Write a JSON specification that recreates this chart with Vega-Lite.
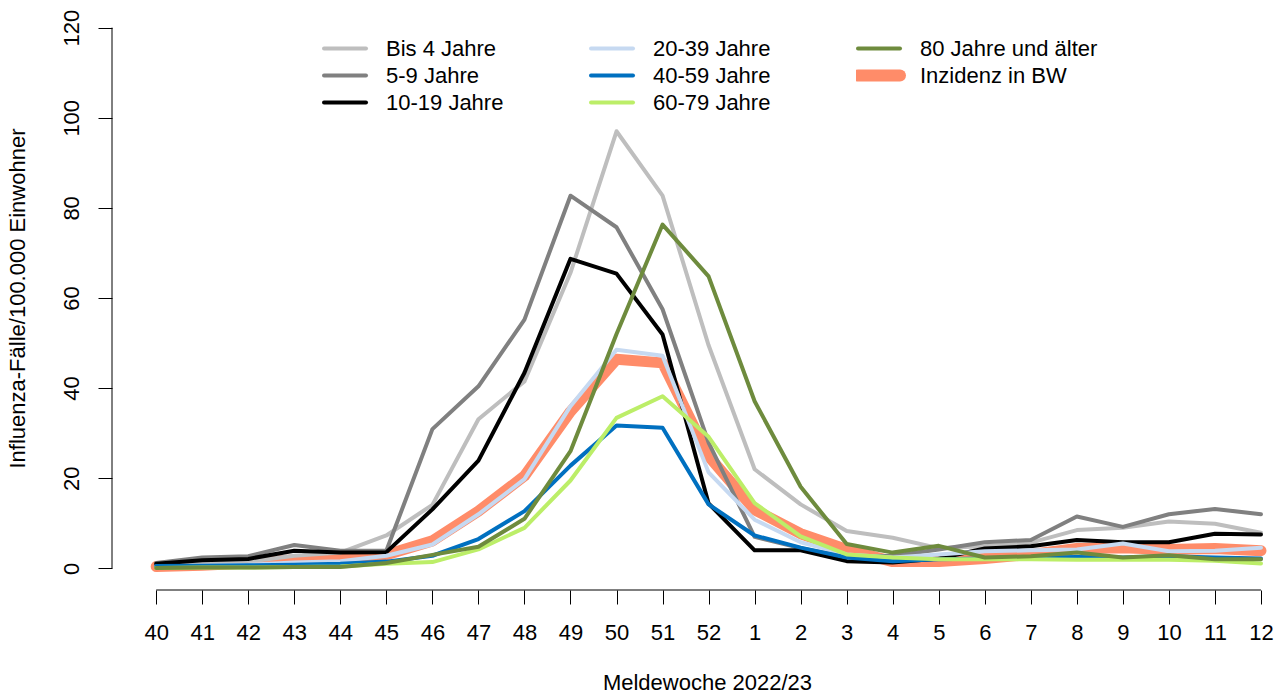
{
  "$schema": "https://vega.github.io/schema/vega-lite/v6.json",
  "width": 1172,
  "height": 584,
  "autosize": {"type": "none"},
  "padding": {"left": 112, "top": 6, "right": 0, "bottom": 105},
  "background": "white",
  "config": {
    "view": {"stroke": null},
    "font": "Liberation Sans",
    "axis": {"grid": false, "labelFont": "Liberation Sans", "titleFont": "Liberation Sans", "labelColor": "black", "titleColor": "black", "tickColor": "black", "tickWidth": 1, "labelFontSize": 22, "titleFontSize": 22, "titleFontWeight": "normal"}
  },
  "data": {
    "values": [
      {"Woche": "2022-10-03", "Gruppe": "Bis 4 Jahre", "Wert": 0.5},
      {"Woche": "2022-10-10", "Gruppe": "Bis 4 Jahre", "Wert": 1.0},
      {"Woche": "2022-10-17", "Gruppe": "Bis 4 Jahre", "Wert": 1.5},
      {"Woche": "2022-10-24", "Gruppe": "Bis 4 Jahre", "Wert": 2.8},
      {"Woche": "2022-10-31", "Gruppe": "Bis 4 Jahre", "Wert": 3.5},
      {"Woche": "2022-11-07", "Gruppe": "Bis 4 Jahre", "Wert": 7.3},
      {"Woche": "2022-11-14", "Gruppe": "Bis 4 Jahre", "Wert": 14.1},
      {"Woche": "2022-11-21", "Gruppe": "Bis 4 Jahre", "Wert": 33.1},
      {"Woche": "2022-11-28", "Gruppe": "Bis 4 Jahre", "Wert": 41.5},
      {"Woche": "2022-12-05", "Gruppe": "Bis 4 Jahre", "Wert": 65.6},
      {"Woche": "2022-12-12", "Gruppe": "Bis 4 Jahre", "Wert": 97.0},
      {"Woche": "2022-12-19", "Gruppe": "Bis 4 Jahre", "Wert": 82.7},
      {"Woche": "2022-12-26", "Gruppe": "Bis 4 Jahre", "Wert": 49.5},
      {"Woche": "2023-01-02", "Gruppe": "Bis 4 Jahre", "Wert": 22.0},
      {"Woche": "2023-01-09", "Gruppe": "Bis 4 Jahre", "Wert": 14.2},
      {"Woche": "2023-01-16", "Gruppe": "Bis 4 Jahre", "Wert": 8.3},
      {"Woche": "2023-01-23", "Gruppe": "Bis 4 Jahre", "Wert": 6.8},
      {"Woche": "2023-01-30", "Gruppe": "Bis 4 Jahre", "Wert": 4.5},
      {"Woche": "2023-02-06", "Gruppe": "Bis 4 Jahre", "Wert": 4.9},
      {"Woche": "2023-02-13", "Gruppe": "Bis 4 Jahre", "Wert": 5.7},
      {"Woche": "2023-02-20", "Gruppe": "Bis 4 Jahre", "Wert": 8.5},
      {"Woche": "2023-02-27", "Gruppe": "Bis 4 Jahre", "Wert": 9.0},
      {"Woche": "2023-03-06", "Gruppe": "Bis 4 Jahre", "Wert": 10.4},
      {"Woche": "2023-03-13", "Gruppe": "Bis 4 Jahre", "Wert": 9.9},
      {"Woche": "2023-03-20", "Gruppe": "Bis 4 Jahre", "Wert": 7.9},

      {"Woche": "2022-10-03", "Gruppe": "5-9 Jahre", "Wert": 1.2},
      {"Woche": "2022-10-10", "Gruppe": "5-9 Jahre", "Wert": 2.4},
      {"Woche": "2022-10-17", "Gruppe": "5-9 Jahre", "Wert": 2.7},
      {"Woche": "2022-10-24", "Gruppe": "5-9 Jahre", "Wert": 5.2},
      {"Woche": "2022-10-31", "Gruppe": "5-9 Jahre", "Wert": 3.9},
      {"Woche": "2022-11-07", "Gruppe": "5-9 Jahre", "Wert": 3.9},
      {"Woche": "2022-11-14", "Gruppe": "5-9 Jahre", "Wert": 30.9},
      {"Woche": "2022-11-21", "Gruppe": "5-9 Jahre", "Wert": 40.4},
      {"Woche": "2022-11-28", "Gruppe": "5-9 Jahre", "Wert": 55.2},
      {"Woche": "2022-12-05", "Gruppe": "5-9 Jahre", "Wert": 82.7},
      {"Woche": "2022-12-12", "Gruppe": "5-9 Jahre", "Wert": 75.7},
      {"Woche": "2022-12-19", "Gruppe": "5-9 Jahre", "Wert": 57.5},
      {"Woche": "2022-12-26", "Gruppe": "5-9 Jahre", "Wert": 27.9},
      {"Woche": "2023-01-02", "Gruppe": "5-9 Jahre", "Wert": 7.0},
      {"Woche": "2023-01-09", "Gruppe": "5-9 Jahre", "Wert": 4.5},
      {"Woche": "2023-01-16", "Gruppe": "5-9 Jahre", "Wert": 2.5},
      {"Woche": "2023-01-23", "Gruppe": "5-9 Jahre", "Wert": 2.8},
      {"Woche": "2023-01-30", "Gruppe": "5-9 Jahre", "Wert": 4.2},
      {"Woche": "2023-02-06", "Gruppe": "5-9 Jahre", "Wert": 5.8},
      {"Woche": "2023-02-13", "Gruppe": "5-9 Jahre", "Wert": 6.3},
      {"Woche": "2023-02-20", "Gruppe": "5-9 Jahre", "Wert": 11.5},
      {"Woche": "2023-02-27", "Gruppe": "5-9 Jahre", "Wert": 9.2},
      {"Woche": "2023-03-06", "Gruppe": "5-9 Jahre", "Wert": 12.0},
      {"Woche": "2023-03-13", "Gruppe": "5-9 Jahre", "Wert": 13.2},
      {"Woche": "2023-03-20", "Gruppe": "5-9 Jahre", "Wert": 12.0},

      {"Woche": "2022-10-03", "Gruppe": "10-19 Jahre", "Wert": 1.0},
      {"Woche": "2022-10-10", "Gruppe": "10-19 Jahre", "Wert": 1.8},
      {"Woche": "2022-10-17", "Gruppe": "10-19 Jahre", "Wert": 2.1},
      {"Woche": "2022-10-24", "Gruppe": "10-19 Jahre", "Wert": 3.9},
      {"Woche": "2022-10-31", "Gruppe": "10-19 Jahre", "Wert": 3.5},
      {"Woche": "2022-11-07", "Gruppe": "10-19 Jahre", "Wert": 3.6},
      {"Woche": "2022-11-14", "Gruppe": "10-19 Jahre", "Wert": 13.1},
      {"Woche": "2022-11-21", "Gruppe": "10-19 Jahre", "Wert": 23.9},
      {"Woche": "2022-11-28", "Gruppe": "10-19 Jahre", "Wert": 43.4},
      {"Woche": "2022-12-05", "Gruppe": "10-19 Jahre", "Wert": 68.7},
      {"Woche": "2022-12-12", "Gruppe": "10-19 Jahre", "Wert": 65.4},
      {"Woche": "2022-12-19", "Gruppe": "10-19 Jahre", "Wert": 51.9},
      {"Woche": "2022-12-26", "Gruppe": "10-19 Jahre", "Wert": 14.4},
      {"Woche": "2023-01-02", "Gruppe": "10-19 Jahre", "Wert": 4.0},
      {"Woche": "2023-01-09", "Gruppe": "10-19 Jahre", "Wert": 4.0},
      {"Woche": "2023-01-16", "Gruppe": "10-19 Jahre", "Wert": 1.6},
      {"Woche": "2023-01-23", "Gruppe": "10-19 Jahre", "Wert": 1.3},
      {"Woche": "2023-01-30", "Gruppe": "10-19 Jahre", "Wert": 2.2},
      {"Woche": "2023-02-06", "Gruppe": "10-19 Jahre", "Wert": 4.4},
      {"Woche": "2023-02-13", "Gruppe": "10-19 Jahre", "Wert": 4.9},
      {"Woche": "2023-02-20", "Gruppe": "10-19 Jahre", "Wert": 6.3},
      {"Woche": "2023-02-27", "Gruppe": "10-19 Jahre", "Wert": 5.8},
      {"Woche": "2023-03-06", "Gruppe": "10-19 Jahre", "Wert": 5.8},
      {"Woche": "2023-03-13", "Gruppe": "10-19 Jahre", "Wert": 7.7},
      {"Woche": "2023-03-20", "Gruppe": "10-19 Jahre", "Wert": 7.5},

      {"Woche": "2022-10-03", "Gruppe": "20-39 Jahre", "Wert": 0.4},
      {"Woche": "2022-10-10", "Gruppe": "20-39 Jahre", "Wert": 0.6},
      {"Woche": "2022-10-17", "Gruppe": "20-39 Jahre", "Wert": 0.8},
      {"Woche": "2022-10-24", "Gruppe": "20-39 Jahre", "Wert": 1.3},
      {"Woche": "2022-10-31", "Gruppe": "20-39 Jahre", "Wert": 1.6},
      {"Woche": "2022-11-07", "Gruppe": "20-39 Jahre", "Wert": 2.8},
      {"Woche": "2022-11-14", "Gruppe": "20-39 Jahre", "Wert": 5.3},
      {"Woche": "2022-11-21", "Gruppe": "20-39 Jahre", "Wert": 12.0},
      {"Woche": "2022-11-28", "Gruppe": "20-39 Jahre", "Wert": 19.8},
      {"Woche": "2022-12-05", "Gruppe": "20-39 Jahre", "Wert": 36.0},
      {"Woche": "2022-12-12", "Gruppe": "20-39 Jahre", "Wert": 48.5},
      {"Woche": "2022-12-19", "Gruppe": "20-39 Jahre", "Wert": 47.2},
      {"Woche": "2022-12-26", "Gruppe": "20-39 Jahre", "Wert": 21.3},
      {"Woche": "2023-01-02", "Gruppe": "20-39 Jahre", "Wert": 10.8},
      {"Woche": "2023-01-09", "Gruppe": "20-39 Jahre", "Wert": 5.8},
      {"Woche": "2023-01-16", "Gruppe": "20-39 Jahre", "Wert": 3.1},
      {"Woche": "2023-01-23", "Gruppe": "20-39 Jahre", "Wert": 2.4},
      {"Woche": "2023-01-30", "Gruppe": "20-39 Jahre", "Wert": 3.1},
      {"Woche": "2023-02-06", "Gruppe": "20-39 Jahre", "Wert": 3.8},
      {"Woche": "2023-02-13", "Gruppe": "20-39 Jahre", "Wert": 4.0},
      {"Woche": "2023-02-20", "Gruppe": "20-39 Jahre", "Wert": 4.2},
      {"Woche": "2023-02-27", "Gruppe": "20-39 Jahre", "Wert": 5.5},
      {"Woche": "2023-03-06", "Gruppe": "20-39 Jahre", "Wert": 3.8},
      {"Woche": "2023-03-13", "Gruppe": "20-39 Jahre", "Wert": 3.9},
      {"Woche": "2023-03-20", "Gruppe": "20-39 Jahre", "Wert": 4.6},

      {"Woche": "2022-10-03", "Gruppe": "40-59 Jahre", "Wert": 0.5},
      {"Woche": "2022-10-10", "Gruppe": "40-59 Jahre", "Wert": 0.6},
      {"Woche": "2022-10-17", "Gruppe": "40-59 Jahre", "Wert": 0.7},
      {"Woche": "2022-10-24", "Gruppe": "40-59 Jahre", "Wert": 0.8},
      {"Woche": "2022-10-31", "Gruppe": "40-59 Jahre", "Wert": 1.0},
      {"Woche": "2022-11-07", "Gruppe": "40-59 Jahre", "Wert": 1.5},
      {"Woche": "2022-11-14", "Gruppe": "40-59 Jahre", "Wert": 2.8},
      {"Woche": "2022-11-21", "Gruppe": "40-59 Jahre", "Wert": 6.5},
      {"Woche": "2022-11-28", "Gruppe": "40-59 Jahre", "Wert": 12.7},
      {"Woche": "2022-12-05", "Gruppe": "40-59 Jahre", "Wert": 22.8},
      {"Woche": "2022-12-12", "Gruppe": "40-59 Jahre", "Wert": 31.7},
      {"Woche": "2022-12-19", "Gruppe": "40-59 Jahre", "Wert": 31.2},
      {"Woche": "2022-12-26", "Gruppe": "40-59 Jahre", "Wert": 14.2},
      {"Woche": "2023-01-02", "Gruppe": "40-59 Jahre", "Wert": 7.3},
      {"Woche": "2023-01-09", "Gruppe": "40-59 Jahre", "Wert": 4.6},
      {"Woche": "2023-01-16", "Gruppe": "40-59 Jahre", "Wert": 2.4},
      {"Woche": "2023-01-23", "Gruppe": "40-59 Jahre", "Wert": 1.6},
      {"Woche": "2023-01-30", "Gruppe": "40-59 Jahre", "Wert": 2.0},
      {"Woche": "2023-02-06", "Gruppe": "40-59 Jahre", "Wert": 2.2},
      {"Woche": "2023-02-13", "Gruppe": "40-59 Jahre", "Wert": 2.4},
      {"Woche": "2023-02-20", "Gruppe": "40-59 Jahre", "Wert": 2.5},
      {"Woche": "2023-02-27", "Gruppe": "40-59 Jahre", "Wert": 2.4},
      {"Woche": "2023-03-06", "Gruppe": "40-59 Jahre", "Wert": 2.7},
      {"Woche": "2023-03-13", "Gruppe": "40-59 Jahre", "Wert": 2.4},
      {"Woche": "2023-03-20", "Gruppe": "40-59 Jahre", "Wert": 2.2},

      {"Woche": "2022-10-03", "Gruppe": "60-79 Jahre", "Wert": 0.1},
      {"Woche": "2022-10-10", "Gruppe": "60-79 Jahre", "Wert": 0.2},
      {"Woche": "2022-10-17", "Gruppe": "60-79 Jahre", "Wert": 0.2},
      {"Woche": "2022-10-24", "Gruppe": "60-79 Jahre", "Wert": 0.3},
      {"Woche": "2022-10-31", "Gruppe": "60-79 Jahre", "Wert": 0.4},
      {"Woche": "2022-11-07", "Gruppe": "60-79 Jahre", "Wert": 1.0},
      {"Woche": "2022-11-14", "Gruppe": "60-79 Jahre", "Wert": 1.4},
      {"Woche": "2022-11-21", "Gruppe": "60-79 Jahre", "Wert": 4.2},
      {"Woche": "2022-11-28", "Gruppe": "60-79 Jahre", "Wert": 9.0},
      {"Woche": "2022-12-05", "Gruppe": "60-79 Jahre", "Wert": 19.5},
      {"Woche": "2022-12-12", "Gruppe": "60-79 Jahre", "Wert": 33.4},
      {"Woche": "2022-12-19", "Gruppe": "60-79 Jahre", "Wert": 38.2},
      {"Woche": "2022-12-26", "Gruppe": "60-79 Jahre", "Wert": 29.2},
      {"Woche": "2023-01-02", "Gruppe": "60-79 Jahre", "Wert": 14.5},
      {"Woche": "2023-01-09", "Gruppe": "60-79 Jahre", "Wert": 7.1},
      {"Woche": "2023-01-16", "Gruppe": "60-79 Jahre", "Wert": 3.1},
      {"Woche": "2023-01-23", "Gruppe": "60-79 Jahre", "Wert": 2.4},
      {"Woche": "2023-01-30", "Gruppe": "60-79 Jahre", "Wert": 2.0},
      {"Woche": "2023-02-06", "Gruppe": "60-79 Jahre", "Wert": 2.0},
      {"Woche": "2023-02-13", "Gruppe": "60-79 Jahre", "Wert": 2.0},
      {"Woche": "2023-02-20", "Gruppe": "60-79 Jahre", "Wert": 1.9},
      {"Woche": "2023-02-27", "Gruppe": "60-79 Jahre", "Wert": 1.9},
      {"Woche": "2023-03-06", "Gruppe": "60-79 Jahre", "Wert": 1.9},
      {"Woche": "2023-03-13", "Gruppe": "60-79 Jahre", "Wert": 1.7},
      {"Woche": "2023-03-20", "Gruppe": "60-79 Jahre", "Wert": 1.1},

      {"Woche": "2022-10-03", "Gruppe": "80 Jahre und älter", "Wert": 0.1},
      {"Woche": "2022-10-10", "Gruppe": "80 Jahre und älter", "Wert": 0.2},
      {"Woche": "2022-10-17", "Gruppe": "80 Jahre und älter", "Wert": 0.2},
      {"Woche": "2022-10-24", "Gruppe": "80 Jahre und älter", "Wert": 0.3},
      {"Woche": "2022-10-31", "Gruppe": "80 Jahre und älter", "Wert": 0.3},
      {"Woche": "2022-11-07", "Gruppe": "80 Jahre und älter", "Wert": 1.2},
      {"Woche": "2022-11-14", "Gruppe": "80 Jahre und älter", "Wert": 3.0},
      {"Woche": "2022-11-21", "Gruppe": "80 Jahre und älter", "Wert": 4.8},
      {"Woche": "2022-11-28", "Gruppe": "80 Jahre und älter", "Wert": 11.0},
      {"Woche": "2022-12-05", "Gruppe": "80 Jahre und älter", "Wert": 26.0},
      {"Woche": "2022-12-12", "Gruppe": "80 Jahre und älter", "Wert": 52.0},
      {"Woche": "2022-12-19", "Gruppe": "80 Jahre und älter", "Wert": 76.3},
      {"Woche": "2022-12-26", "Gruppe": "80 Jahre und älter", "Wert": 64.8},
      {"Woche": "2023-01-02", "Gruppe": "80 Jahre und älter", "Wert": 37.1},
      {"Woche": "2023-01-09", "Gruppe": "80 Jahre und älter", "Wert": 18.1},
      {"Woche": "2023-01-16", "Gruppe": "80 Jahre und älter", "Wert": 5.4},
      {"Woche": "2023-01-23", "Gruppe": "80 Jahre und älter", "Wert": 3.5},
      {"Woche": "2023-01-30", "Gruppe": "80 Jahre und älter", "Wert": 5.0},
      {"Woche": "2023-02-06", "Gruppe": "80 Jahre und älter", "Wert": 2.4},
      {"Woche": "2023-02-13", "Gruppe": "80 Jahre und älter", "Wert": 2.7},
      {"Woche": "2023-02-20", "Gruppe": "80 Jahre und älter", "Wert": 3.5},
      {"Woche": "2023-02-27", "Gruppe": "80 Jahre und älter", "Wert": 2.4},
      {"Woche": "2023-03-06", "Gruppe": "80 Jahre und älter", "Wert": 2.9},
      {"Woche": "2023-03-13", "Gruppe": "80 Jahre und älter", "Wert": 2.0},
      {"Woche": "2023-03-20", "Gruppe": "80 Jahre und älter", "Wert": 2.0},

      {"Woche": "2022-10-03", "Gruppe": "Inzidenz in BW", "Wert": 0.4},
      {"Woche": "2022-10-10", "Gruppe": "Inzidenz in BW", "Wert": 0.7},
      {"Woche": "2022-10-17", "Gruppe": "Inzidenz in BW", "Wert": 1.2},
      {"Woche": "2022-10-24", "Gruppe": "Inzidenz in BW", "Wert": 1.9},
      {"Woche": "2022-10-31", "Gruppe": "Inzidenz in BW", "Wert": 2.1},
      {"Woche": "2022-11-07", "Gruppe": "Inzidenz in BW", "Wert": 3.0},
      {"Woche": "2022-11-14", "Gruppe": "Inzidenz in BW", "Wert": 6.1},
      {"Woche": "2022-11-21", "Gruppe": "Inzidenz in BW", "Wert": 12.7},
      {"Woche": "2022-11-28", "Gruppe": "Inzidenz in BW", "Wert": 20.5},
      {"Woche": "2022-12-05", "Gruppe": "Inzidenz in BW", "Wert": 34.8},
      {"Woche": "2022-12-12", "Gruppe": "Inzidenz in BW", "Wert": 46.4},
      {"Woche": "2022-12-19", "Gruppe": "Inzidenz in BW", "Wert": 45.6},
      {"Woche": "2022-12-26", "Gruppe": "Inzidenz in BW", "Wert": 24.9},
      {"Woche": "2023-01-02", "Gruppe": "Inzidenz in BW", "Wert": 13.0},
      {"Woche": "2023-01-09", "Gruppe": "Inzidenz in BW", "Wert": 7.7},
      {"Woche": "2023-01-16", "Gruppe": "Inzidenz in BW", "Wert": 4.2},
      {"Woche": "2023-01-23", "Gruppe": "Inzidenz in BW", "Wert": 1.5},
      {"Woche": "2023-01-30", "Gruppe": "Inzidenz in BW", "Wert": 1.5},
      {"Woche": "2023-02-06", "Gruppe": "Inzidenz in BW", "Wert": 2.2},
      {"Woche": "2023-02-13", "Gruppe": "Inzidenz in BW", "Wert": 3.1},
      {"Woche": "2023-02-20", "Gruppe": "Inzidenz in BW", "Wert": 4.4},
      {"Woche": "2023-02-27", "Gruppe": "Inzidenz in BW", "Wert": 4.6},
      {"Woche": "2023-03-06", "Gruppe": "Inzidenz in BW", "Wert": 4.2},
      {"Woche": "2023-03-13", "Gruppe": "Inzidenz in BW", "Wert": 4.4},
      {"Woche": "2023-03-20", "Gruppe": "Inzidenz in BW", "Wert": 3.9}
    ]
  },
  "layer": [
    {
      "encoding": {
        "x": {
          "field": "Woche",
          "type": "temporal",
          "scale": {
            "type": "utc",
            "domain": [
              {"year": 2022, "month": 9, "date": 26, "hours": 6, "minutes": 43, "seconds": 12, "utc": true},
              {"year": 2023, "month": 3, "date": 23, "hours": 12, "utc": true}
            ]
          },
          "axis": {
            "values": [
              {"year": 2022, "month": 10, "date": 3, "utc": true},
              {"year": 2022, "month": 10, "date": 10, "utc": true},
              {"year": 2022, "month": 10, "date": 17, "utc": true},
              {"year": 2022, "month": 10, "date": 24, "utc": true},
              {"year": 2022, "month": 10, "date": 31, "utc": true},
              {"year": 2022, "month": 11, "date": 7, "utc": true},
              {"year": 2022, "month": 11, "date": 14, "utc": true},
              {"year": 2022, "month": 11, "date": 21, "utc": true},
              {"year": 2022, "month": 11, "date": 28, "utc": true},
              {"year": 2022, "month": 12, "date": 5, "utc": true},
              {"year": 2022, "month": 12, "date": 12, "utc": true},
              {"year": 2022, "month": 12, "date": 19, "utc": true},
              {"year": 2022, "month": 12, "date": 26, "utc": true},
              {"year": 2023, "month": 1, "date": 2, "utc": true},
              {"year": 2023, "month": 1, "date": 9, "utc": true},
              {"year": 2023, "month": 1, "date": 16, "utc": true},
              {"year": 2023, "month": 1, "date": 23, "utc": true},
              {"year": 2023, "month": 1, "date": 30, "utc": true},
              {"year": 2023, "month": 2, "date": 6, "utc": true},
              {"year": 2023, "month": 2, "date": 13, "utc": true},
              {"year": 2023, "month": 2, "date": 20, "utc": true},
              {"year": 2023, "month": 2, "date": 27, "utc": true},
              {"year": 2023, "month": 3, "date": 6, "utc": true},
              {"year": 2023, "month": 3, "date": 13, "utc": true},
              {"year": 2023, "month": 3, "date": 20, "utc": true}
            ],
            "format": "%-V",
            "domain": false,
            "tickSize": 14,
            "labelPadding": 18,
            "labelBaseline": "top",
            "labelFlush": false,
            "labelOverlap": false,
            "labelAngle": 0,
            "title": "Meldewoche 2022/23",
            "titlePadding": 29,
            "titleX": 595
          }
        },
        "y": {
          "field": "Wert",
          "type": "quantitative",
          "scale": {"domain": [-4.8, 124.8], "nice": false, "zero": false},
          "axis": {
            "values": [0, 20, 40, 60, 80, 100, 120],
            "domain": false,
            "tickSize": 14,
            "labelAngle": 270,
            "labelAlign": "center",
            "labelBaseline": "middle",
            "labelPadding": 27,
            "title": "Influenza-Fälle/100.000 Einwohner",
            "titlePadding": 31
          }
        },
        "color": {
          "field": "Gruppe",
          "type": "nominal",
          "scale": {
            "domain": ["Bis 4 Jahre", "5-9 Jahre", "10-19 Jahre", "20-39 Jahre", "40-59 Jahre", "60-79 Jahre", "80 Jahre und älter", "Inzidenz in BW"],
            "range": ["#BEBEBE", "#808080", "#000000", "#C6D9F1", "#0070C0", "#BCEE68", "#6E8B3D", "#FF8C69"]
          },
          "legend": {
            "title": null,
            "orient": "none",
            "legendX": 210,
            "legendY": 29,
            "columns": 3,
            "gridAlign": "all",
            "columnPadding": 25,
            "rowPadding": 0,
            "clipHeight": 27,
            "padding": 0,
            "labelFont": "Liberation Sans",
            "labelFontSize": 22,
            "labelColor": "black",
            "labelLimit": 400,
            "labelOffset": 30,
            "symbolOffset": 12,
            "symbolType": "M-4.2,0H4.2",
            "symbolSize": 100,
            "symbolStrokeWidth": 4,
            "encode": {
              "symbols": {
                "update": {
                  "strokeWidth": {"signal": "datum.value === 'Inzidenz in BW' ? 12 : 4"},
                  "strokeCap": {"value": "round"}
                }
              }
            }
          }
        }
      },
      "layer": [
        {
          "transform": [{"filter": "datum.Gruppe === 'Inzidenz in BW'"}],
          "mark": {"type": "line", "strokeWidth": 11, "strokeCap": "round", "strokeJoin": "round"}
        },
        {
          "transform": [{"filter": "datum.Gruppe !== 'Inzidenz in BW'"}],
          "mark": {"type": "line", "strokeWidth": 4, "strokeCap": "round", "strokeJoin": "round"}
        }
      ]
    },
    {
      "data": {"values": [{}]},
      "mark": {"type": "rule", "color": "black", "strokeWidth": 1},
      "encoding": {
        "x": {"datum": {"year": 2022, "month": 10, "date": 3, "utc": true}, "type": "temporal"},
        "x2": {"datum": {"year": 2023, "month": 3, "date": 20, "utc": true}},
        "y": {"datum": -4.8, "type": "quantitative"}
      }
    },
    {
      "data": {"values": [{}]},
      "mark": {"type": "rule", "color": "black", "strokeWidth": 1},
      "encoding": {
        "x": {"datum": {"year": 2022, "month": 9, "date": 26, "hours": 6, "minutes": 43, "seconds": 12, "utc": true}, "type": "temporal"},
        "y": {"datum": 0, "type": "quantitative"},
        "y2": {"datum": 120}
      }
    }
  ]
}
